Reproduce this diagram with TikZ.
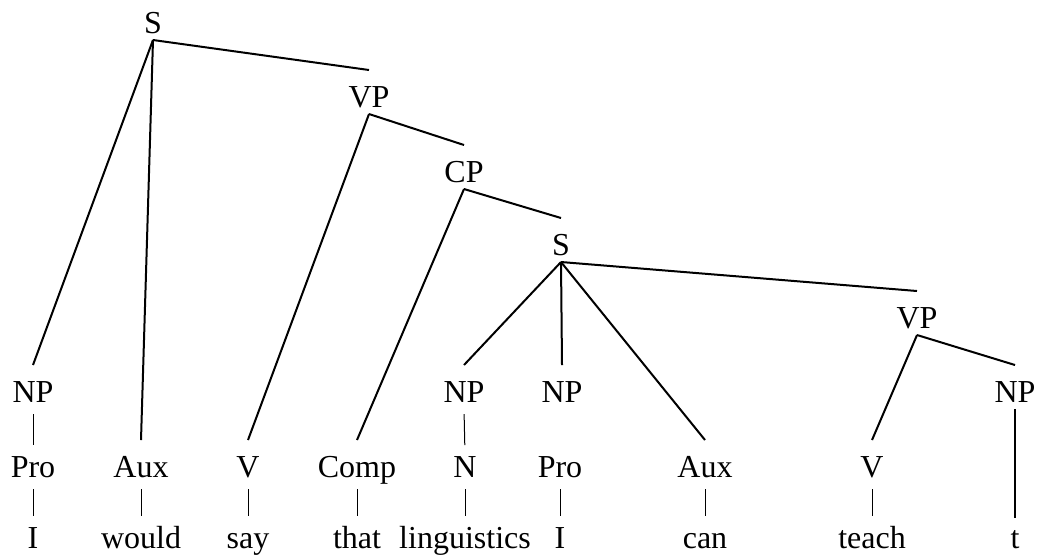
\documentclass[tikz,border=0pt]{standalone}
\usepackage{fontspec}
\setmainfont{Liberation Serif}
\usepackage{tikz}

\tikzset{
	cat/.style={anchor=base, inner sep=0pt, outer sep=0pt, text height=11pt, text depth=3.5pt},
	branch/.style={line width=1pt},
	bar/.style={line width=0.5pt, shorten <=2.5pt, shorten >=5pt}
}

\begin{document}
\begin{tikzpicture}[x=0.5pt, y=-0.5pt, font=\fontsize{16}{19}\selectfont]
		% Frame of the picture
		\useasboundingbox (0,0) rectangle (1042,554);
		
		% Phrase nodes
		\node[cat] (s)   at (153,33)  {S};
		\node[cat] (vp)  at (369,107) {VP};
		\node[cat] (cp)  at (464,182) {CP};
		\node[cat] (s2)  at (561,255) {S};
		\node[cat] (vp2) at (917,328) {VP};
		
		% NP row
		\node[cat] (np1) at (33,402)   {NP};
		\node[cat] (np2) at (464,402)  {NP};
		\node[cat] (np3) at (562,402)  {NP};
		\node[cat] (np4) at (1015,402) {NP};
		
		% Word classes
		\node[cat] (pro1) at (33,477)  {Pro};
		\node[cat] (aux1) at (141,477) {Aux};
		\node[cat] (v1)   at (248,477) {V};
		\node[cat] (comp) at (357,477) {Comp};
		\node[cat] (n)    at (465,477) {N};
		\node[cat] (pro2) at (560,477) {Pro};
		\node[cat] (aux2) at (705,477) {Aux};
		\node[cat] (v2)   at (872,477) {V};
		
		% Words
		\node[cat] (w1) at (33,548)   {I};
		\node[cat] (w2) at (141,548)  {would};
		\node[cat] (w3) at (248,548)  {say};
		\node[cat] (w4) at (357,548)  {that};
		\node[cat] (w5) at (465,548)  {linguistics};
		\node[cat] (w6) at (560,548)  {I};
		\node[cat] (w7) at (705,548)  {can};
		\node[cat] (w8) at (872,548)  {teach};
		\node[cat] (w9) at (1015,548) {t};
		
		% Branches of the tree
		\foreach \p/\q in {s/np1, s/aux1, s/vp, vp/v1, vp/cp, cp/comp, cp/s2,
			s2/np2, s2/np3, s2/aux2, s2/vp2, vp2/v2, vp2/np4}
			\draw[branch] (\p.south) -- ([yshift=7.5pt]\q.north);
		\draw[branch, shorten >=4pt] (np4.south) -- (w9.north);
		
		% Short bars down to the words
		\foreach \p/\q in {np1/pro1, np2/n, pro1/w1, aux1/w2, v1/w3, comp/w4,
			n/w5, pro2/w6, aux2/w7, v2/w8}
			\draw[bar] (\p.south) -- (\q.north);
	\end{tikzpicture}
\end{document}
